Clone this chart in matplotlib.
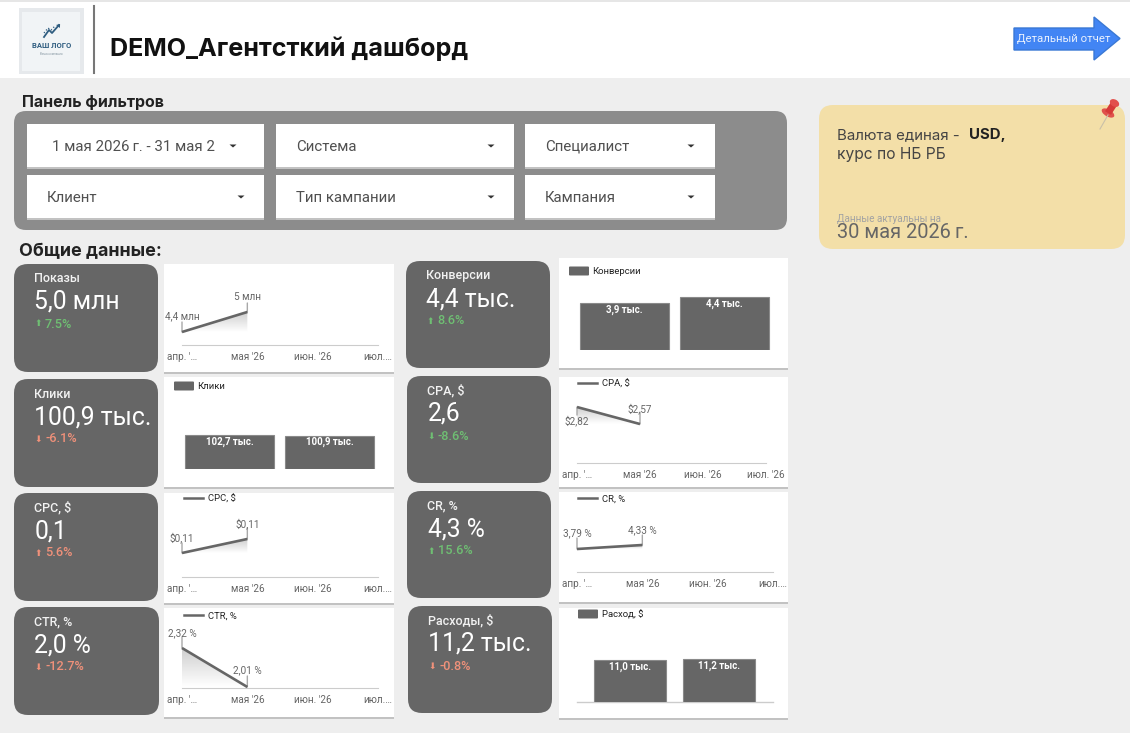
# dashboard recreated on one pixel canvas, charts are small axes on top of it
import numpy as np
import matplotlib
matplotlib.use("Agg")
import matplotlib.pyplot as plt
from matplotlib.patches import FancyBboxPatch, Polygon, Rectangle, Ellipse
from matplotlib.transforms import Bbox

W, H = 1130, 733
plt.rcParams['font.family'] = ['Roboto', 'DejaVu Sans']

# data
kpi_names = ["Показы", "Клики", "CPC, $", "CTR, %", "Конверсии", "CPA, $", "CR, %", "Расходы, $"]
kpi_values = ["5,0 млн", "100,9 тыс.", "0,1", "2,0 %", "4,4 тыс.", "2,6", "4,3 %", "11,2 тыс."]
kpi_deltas = ["7.5%", "-6.1%", "5.6%", "-12.7%", "8.6%", "-8.6%", "15.6%", "-0.8%"]
kpi_good = [True, False, False, False, True, True, True, False]

months = ["апр. '…", "мая '26", "июн. '26", "июл.…"]
months_cpa = ["апр. '…", "мая '26", "июн. '26", "июл. '26"]

shows = [4.4, 5.0]
shows_labels = ["4,4 млн", "5 млн"]
cpc = [0.106, 0.112]
cpc_labels = ["$0,11", "$0,11"]
ctr = [2.32, 2.01]
ctr_labels = ["2,32 %", "2,01 %"]
cpa = [2.82, 2.57]
cpa_labels = ["$2,82", "$2,57"]
cr = [3.79, 4.33]
cr_labels = ["3,79 %", "4,33 %"]

clicks = [102.7, 100.9]
clicks_labels = ["102,7 тыс.", "100,9 тыс."]
conversions = [3.9, 4.4]
conversions_labels = ["3,9 тыс.", "4,4 тыс."]
spend = [11.0, 11.2]
spend_labels = ["11,0 тыс.", "11,2 тыс."]

filters = ["1 мая 2026\u2009г. - 31 мая 2", "Система", "Специалист", "Клиент", "Тип кампании", "Кампания"]

DARK = "#666666"
BG = "#eeeeee"
WIDE = ['Inter', 'DejaVu Sans']

fig = plt.figure(figsize=(W / 100, H / 100), dpi=100, facecolor=BG)
bg = fig.add_axes([0, 0, 1, 1])
bg.set_xlim(0, W)
bg.set_ylim(H, 0)
bg.axis('off')


def box(x0, y0, x1, y1, color, r=0, shadow=False):
    if shadow:
        bg.add_patch(Rectangle((x0, y0 + 1), x1 - x0, y1 - y0 + 0.6, fc="#c2c2c2", ec="none"))
    if r:
        bg.add_patch(FancyBboxPatch((x0, y0), x1 - x0, y1 - y0, boxstyle=f"round,pad=0,rounding_size={r}",
                                    fc=color, ec="none"))
    else:
        bg.add_patch(Rectangle((x0, y0), x1 - x0, y1 - y0, fc=color, ec="none"))


def label(x, y, s, size, color="#333333", weight="normal", ha="left", family=None, **kw):
    return bg.text(x, y, s, fontsize=size, color=color, fontweight=weight, ha=ha, va="center",
                   family=family or ['Roboto', 'DejaVu Sans'], **kw)


def sub_axes(x0, x1, y_top, y_base):
    ax = fig.add_axes([x0 / W, 1 - y_base / H, (x1 - x0) / W, (y_base - y_top) / H], zorder=3)
    ax.patch.set_alpha(0)
    for s in ax.spines.values():
        s.set_visible(False)
    return ax


def line_chart(x0, x1, y_top, y_base, ylim, values, labels, offsets, legend=None, ticks=months, clip=None):
    ax = sub_axes(x0, x1, y_top, y_base)
    xs = np.arange(len(values))
    # gradient below the line, down to the smallest value
    grad = np.linspace(0, 1, 64).reshape(-1, 1)
    im = ax.imshow(grad, cmap=matplotlib.colors.LinearSegmentedColormap.from_list("g", ["#cfcfcf", "#ffffff"]),
                   extent=(0, 1, min(values), max(values)), origin="upper", aspect="auto", zorder=1)
    poly = Polygon([(0, values[0]), (1, values[1]),
                    (1, min(values)) if values[1] > values[0] else (0, min(values))],
                   transform=ax.transData, fc="none", ec="none")
    ax.add_patch(poly)
    im.set_clip_path(poly)
    ax.plot(xs, values, color=DARK, lw=1.9, zorder=3, solid_capstyle="butt", clip_on=False)
    for i, (v, s, off) in enumerate(zip(values, labels, offsets)):
        ax.annotate("", xy=(i, v), xytext=(0, off[0]), textcoords="offset pixels",
                    arrowprops=dict(arrowstyle="-", color="#a8a8a8", lw=1, shrinkA=0, shrinkB=0), zorder=2)
        ax.annotate(s, xy=(i, v), xytext=(0, off[1]), textcoords="offset pixels", ha="center", va="center",
                    fontsize=7.2, color="#666666", zorder=4)
    ax.set_xlim(0, 3)
    ax.set_ylim(*ylim)
    ax.set_yticks([])
    ax.set_xticks(range(len(ticks)))
    ax.set_xticklabels(ticks, fontsize=7.2, color="#666666")
    ax.tick_params(axis='x', length=0, pad=5)
    ax.spines['bottom'].set_visible(True)
    ax.spines['bottom'].set_color("#cccccc")
    if clip is not None:
        for t in ax.get_xticklabels():
            t.set_clip_on(True)
            t.set_clip_box(Bbox([[0, 0], [clip, H]]))
    if legend:
        bg.plot([legend[1], legend[1] + 19], [legend[2], legend[2]], color=DARK, lw=1.8, zorder=4)
        label(legend[1] + 24, legend[2] + 1, legend[0], 6.8, color="#222222", zorder=4)
    return ax


def bar_chart(x0, x1, y_top, y_base, ymax, values, labels, width):
    ax = sub_axes(x0, x1, y_top, y_base)
    xs = np.arange(len(values))
    ax.bar(xs, values, width=width, color=DARK, edgecolor="#8a8a8a", linewidth=0.8)
    for i, (v, s) in enumerate(zip(values, labels)):
        ax.annotate(s, xy=(i, v), xytext=(0, -6.5), textcoords="offset pixels", ha="center", va="center",
                    fontsize=7, color="white", fontweight="bold")
    ax.set_xlim(-0.5, len(values) - 0.5)
    ax.set_ylim(0, ymax)
    ax.set_xticks([])
    ax.set_yticks([])
    return ax


# header
box(0, 2, W, 78, "white")
box(0, 0, W, 2, "#e6e6e6")
box(19, 8, 84, 74, "#e6e9ec")
box(22, 12, 80, 71, "#f1f4f6")
bg.plot([44, 49, 52, 59], [37, 30, 33, 25], color="#2f5d80", lw=1.3)
bg.plot([44, 48, 51, 55], [33, 28, 30, 26], color="#2f5d80", lw=0.9, ls=":")
bg.add_patch(Polygon([(56, 25), (60, 24), (60, 28)], fc="#2f5d80", ec="none"))
label(51.5, 46, "ВАШ ЛОГО", 5.5, color="#2f5d80", weight="bold", ha="center")
label(51.5, 54, "Ваша компания", 2.2, color="#8a9aa5", ha="center")
bg.plot([94, 94], [6, 73], color="#777777", lw=1.5)
label(110, 49, "DEMO_Агентсткий дашборд", 18.1, color="#111111", weight="bold", family=WIDE)

arrow_pts = [(1014, 28), (1094, 28), (1094, 17), (1120, 38.5), (1094, 60), (1094, 50), (1014, 50)]
bg.add_patch(Polygon(arrow_pts, fc="#4285f4", ec="#3a78d4", lw=1))
label(1064, 39, "Детальный отчет", 8.2, color="#e8f0fe", ha="center")

# filters
label(22, 102, "Панель фильтров", 11.5, color="#222222", weight="bold", family=WIDE)
box(14, 111, 787, 230, "#8c8c8c", r=12)
fx = [(27, 264), (276, 514), (525, 715), (27, 264), (276, 514), (525, 715)]
fy = [(124, 167), (124, 167), (124, 167), (175, 218), (175, 218), (175, 218)]
ftext = [52, 296, 545, 47, 296, 545]
fcaret = [233, 491, 691, 241, 491, 691]
for name, (a, b), (c, d), tx, cx in zip(filters, fx, fy, ftext, fcaret):
    box(a, c, b, d, "white", shadow=True)
    label(tx, (c + d) / 2 + 1.2, name, 10.8, color="#505050")
    bg.add_patch(Polygon([(cx - 3.5, c + 20.5), (cx + 3.5, c + 20.5), (cx, c + 23.5)],
                         fc="#333333", ec="none"))

label(19, 252, "Общие данные:", 12.9, color="#222222", weight="bold", family=WIDE)

# note card
box(819, 105, 1125, 249, "#f3dfa8", r=14)
label(837, 135, "Валюта единая - ", 10.8, color="#444444", family=WIDE)
label(969, 135, "USD,", 10.8, color="#222222", weight="bold", family=WIDE)
label(837, 154, "курс по НБ РБ", 11.2, color="#444444", family=WIDE)
label(837, 219.5, "Данные актуальны на", 7.2, color="#a3a3a3")
label(837, 232.5, "30 мая 2026\u2009г.", 14.4, color="#666666")
# pin
bg.plot([1100, 1108], [129, 115], color="#c9c0a8", lw=0.8)
bg.add_patch(Ellipse((1108, 113), 14, 7, angle=30, fc="#e0524c", ec="none"))
bg.add_patch(Polygon([(1105, 111.2), (1111, 114.8), (1117.5, 104.8), (1111.5, 101.2)], fc="#d63a38", ec="none"))
bg.add_patch(Ellipse((1114.5, 103), 10, 7, angle=30, fc="#e2504c", ec="none"))

# kpi tiles
kpi_boxes = [(14, 264, 158, 372), (14, 379, 158, 487), (14, 493, 158, 601), (14, 607, 159, 715),
             (406, 261, 550, 368), (407, 376, 551, 483), (407, 491, 551, 598), (408, 606, 552, 713)]
for name, val, delta, good, (x0, y0, x1, y1) in zip(kpi_names, kpi_values, kpi_deltas, kpi_good, kpi_boxes):
    box(x0, y0, x1, y1, DARK, r=14)
    col = "#6fbf73" if good else "#f0917a"
    label(x0 + 20, y0 + 15, name, 9, color="#f2f2f2", weight="medium")
    label(x0 + 20.5, y0 + 38, val, 17.8, color="white")
    label(x0 + 24, y0 + 60, "⬆" if not delta.startswith("-") else "⬇", 6.5, color=col, ha="center")
    label(x0 + 31, y0 + 60, delta, 9.2, color=col, weight="medium")

# chart cards
card_boxes = [(164, 264, 394, 372), (164, 377, 394, 487), (164, 493, 394, 603), (164, 608, 394, 717),
              (559, 258, 788, 368), (559, 377, 788, 487), (559, 492, 788, 602), (559, 608, 788, 718)]
for x0, y0, x1, y1 in card_boxes:
    box(x0, y0, x1, y1, "white", shadow=True)

line_chart(182, 378, 285, 345, (4.01, 5.81), shows, shows_labels, [(10, 16), (9, 15)])
line_chart(182, 378, 518, 577, (0.0957, 0.1210), cpc, cpc_labels, [(10, 15.5), (11, 15.5)],
           legend=("CPC, $", 184, 498))
line_chart(182, 378, 628, 688, (2.002, 2.479), ctr, ctr_labels, [(11, 15), (11, 16.5)],
           legend=("CTR, %", 184, 615))
line_chart(577, 766, 398, 463, (1.997, 2.953), cpa, cpa_labels, [(-8, -14), (12, 15)],
           legend=("CPA, $", 578, 383), ticks=months_cpa, clip=785)
line_chart(577, 773, 515, 572, (0.685, 8.38), cr, cr_labels, [(11, 16), (10, 15)],
           legend=("CR, %", 578, 498))

bar_chart(179.5, 379.5, 400, 469, 209, clicks, clicks_labels, 0.89)
bar_chart(574.5, 774.5, 285, 350, 5.4, conversions, conversions_labels, 0.89)
bar_chart(585, 764, 640, 702, 16.2, spend, spend_labels, 72 / 89.5)
bg.plot([577, 773], [702, 702], color="#cccccc", lw=1, zorder=2)

# bar legends
for text, x, y in [("Клики", 174, 386), ("Конверсии", 569, 271), ("Расход, $", 578, 614)]:
    box(x, y - 4.5, x + 20, y + 4.5, DARK, r=1)
    label(x + 23.5, y + 0.5, text, 6.8, color="#222222")

fig.savefig("out.png", dpi=100, facecolor=BG)
